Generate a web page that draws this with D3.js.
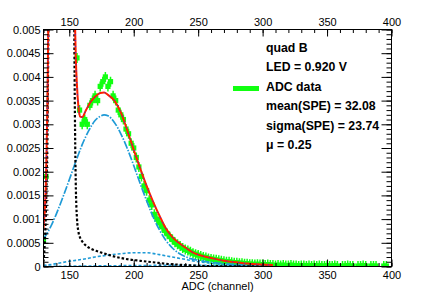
<!DOCTYPE html>
<html>
<head>
<meta charset="utf-8">
<style>
  body { margin: 0; background: #fff; }
  svg { display: block; font-family: "Liberation Sans", Arial, sans-serif; }
  .axis text { font-size: 11px; fill: #000; }
  .axis line, .axis path { stroke: #000; }
  .legend text { font-size: 12.3px; font-weight: bold; }
</style>
</head>
<body>
<svg width="436" height="297"></svg>
<script src="https://d3js.org/d3.v7.min.js"></script>
<script>

// ---- data ----
var xTicks = [150, 200, 250, 300, 350, 400];
var yTicks = [0, 0.0005, 0.001, 0.0015, 0.002, 0.0025, 0.003, 0.0035, 0.004, 0.0045, 0.005];

// ADC histogram, 2-channel bins starting at 130 (null = empty bin)
var binStart = 130, binWidth = 2;
var adcCounts = [
  0.00056, 0.0019, 0.0065, 0.02, 0.04, 0.055, 0.06, 0.06, 0.055, 0.045,          // 130-148
  0.03, 0.016, 0.0068, 0.0044, 0.0033, 0.0030, 0.0031, 0.0030, 0.0034, 0.0035,     // 150-168
  0.0036, 0.0035, 0.0038, 0.0039, 0.0040, 0.0038, 0.0039, 0.0036, 0.0035, 0.0033,  // 170-188
  0.0032, 0.0031, 0.0029, 0.0028, 0.0026, 0.0025, 0.0023, 0.0021, 0.0019, 0.0017,  // 190-208
  0.0016, 0.0014, 0.0013, 0.0011, 0.0010, 0.00092, 0.00084, 0.00076, 0.00069, 0.00063, // 210-228
  0.00057, 0.00051, 0.00047, 0.00043, 0.00039, 0.00036, 0.00034, 0.00031, 0.00028, 0.00026, // 230-248
  0.00024, 0.00022, 0.0002, 0.00019, 0.00017, 0.00016, 0.00015, 0.00014, 0.00013, 0.00012, // 250-268
  0.00011, 0.0001, 0.0001, 0.00009, 0.00008, 0.00008, 0.00007, 0.00007, 0.00006, 0.00006,  // 270-288
  0.00005, 0.00005, 0.00004, 0.00005, 0.00004, 0.00004, 0.00003, 0.00004, 0.00003, 0.00003, // 290-308
  0.00002, 0.00003, 0.00002, 0.00003, 0.00002, 0.00002, 0.00003, 0.00002, 0.00002, 0.00001, // 310-328
  0.00002, 0.00002, 0.00001, 0.00002, 0.00001, 0.00002, 0.00001, 0.00002, 0.00001, 0.00001, // 330-348
  0.00002, 0.00001, 0.00001, 0.00002, 0.00001, null, 0.00001, 0.00001, 0.00002, 0.00001,   // 350-368
  0.00001, null, 0.00001, 0.00001, 0.00002, 0.00001, null, 0.00001, 0.00001, 0.00001,      // 370-388
  null, null, 0.00001, 0.00001, null                                                      // 390-398
];

// total fit (red)
var totalFit = [[130,0.0008],[131,0.0012],[132,0.0019],[133,0.0033],[134,0.0058],[135,0.011],
  [138,0.04],[145,0.07],[150,0.05],[152,0.025],[153,0.012],[154,0.0062],[155,0.0045],[156,0.0038],
  [157,0.0034],[158.5,0.00316],[160,0.00315],[163,0.0033],[166,0.00345],[170,0.00358],[174,0.00366],
  [177,0.00367],[180,0.00362],[185,0.0035],[190,0.00325],[195,0.00287],[200,0.00246],[205,0.00207],
  [210,0.0017],[215,0.00137],[220,0.00107],[225,0.0008],[230,0.00062],[235,0.0005],[240,0.0004],
  [245,0.00031],[250,0.00025],[255,0.00021],[260,0.00018],[265,0.00015],[270,0.00012],[275,0.0001],
  [280,0.00009],[285,0.00007],[290,0.00006],[295,0.00005],[300,0.00004],[308,0.00003]];

// pedestal (black dotted)
var pedestal = [[130,0.0001],[131,0.0005],[132,0.0013],[133,0.0028],[134,0.0056],[135,0.01],
  [138,0.04],[145,0.07],[150,0.05],[152,0.022],[153,0.01],[154,0.0045],[155,0.0018],[156,0.001],
  [157,0.00075],[158.5,0.0006],[160,0.00053],[163.5,0.00043],[168,0.00036],[174,0.0003],[180,0.00025],
  [185,0.00021],[190,0.00018],[196,0.00015],[205,0.00012],[215,0.00009],[228,0.00005],[240,0.00003],
  [255,0.00001],[270,0.000005],[308,0]];

// single photoelectron (blue dash-dot)
var spe1 = [[130,0.00058],[135,0.00081],[140,0.00111],[145,0.00146],[150,0.00183],[155,0.00221],
  [160,0.00257],[165,0.00286],[170,0.00308],[174,0.00317],[177,0.0032],[180,0.00318],[185,0.00304],
  [190,0.0028],[195,0.00249],[200,0.00213],[205,0.00175],[210,0.00139],[215,0.00105],[220,0.00077],
  [225,0.00055],[230,0.00039],[235,0.00028],[240,0.00021],[245,0.00016],[250,0.00013],[260,0.00009],
  [270,0.00006],[280,0.00004],[290,0.00002],[300,0.00001],[308,0.000005]];

// two photoelectrons (blue dotted)
var spe2 = [[130,0.00002],[140,0.00006],[150,0.00011],[160,0.00015],[170,0.0002],[180,0.00024],
  [190,0.00027],[200,0.00029],[210,0.00029],[220,0.00025],[230,0.0002],[240,0.00015],[250,0.0001],
  [260,0.00007],[270,0.00004],[285,0.00002],[300,0.00001],[308,0.000005]];

// three photoelectrons (blue dotted)
var spe3 = [[130,0.000003],[160,0.00001],[200,0.00002],[240,0.000025],[270,0.00002],[308,0.00001]];

var legendLines = ["quad B", "LED = 0.920 V", "ADC data", "mean(SPE) = 32.08", "sigma(SPE) = 23.74", "\u03bc = 0.25"];

// ---- chart ----
var svg = d3.select("svg");
var plotL = 43.5, plotR = 391.5, plotT = 29.5, plotB = 266.5;

var x = d3.scaleLinear().domain([130, 400]).range([plotL, plotR]);
var y = d3.scaleLinear().domain([0, 0.005]).range([plotB, plotT]);

var lightBlue = "#1e9ad6";
var green = "#11ff11";

svg.append("clipPath").attr("id", "clip")
  .append("rect")
    .attr("x", plotL).attr("y", plotT)
    .attr("width", plotR - plotL).attr("height", plotB - plotT);

var plot = svg.append("g").attr("clip-path", "url(#clip)");

// data markers with error bars
var bins = adcCounts.map(function(v, i) { return {ch: binStart + i * binWidth, v: v}; })
  .filter(function(d) { return d.v !== null; });

plot.append("g")
  .selectAll("line")
  .data(bins)
  .enter().append("line")
    .attr("x1", function(d) { return x(d.ch); })
    .attr("x2", function(d) { return x(d.ch); })
    .attr("y1", function(d) { return y(d.v) - 5; })
    .attr("y2", function(d) { return y(d.v) + 5; })
    .attr("stroke", green)
    .attr("stroke-width", 1.5);

plot.append("g")
  .selectAll("rect")
  .data(bins)
  .enter().append("rect")
    .attr("x", function(d) { return x(d.ch) - 2.6; })
    .attr("y", function(d) { return y(d.v) - 2.6; })
    .attr("width", 5.2)
    .attr("height", 5.2)
    .attr("fill", green);

var line = d3.line()
  .x(function(d) { return x(d[0]); })
  .y(function(d) { return y(d[1]); })
  .curve(d3.curveMonotoneX);

function curve(data, color, width, dash) {
  plot.append("path")
    .datum(data)
    .attr("fill", "none")
    .attr("stroke", color)
    .attr("stroke-width", width)
    .attr("stroke-dasharray", dash)
    .attr("d", line);
}

curve(spe3, lightBlue, 1.6, "3,2");
curve(spe2, lightBlue, 1.6, "3,2");
curve(spe1, lightBlue, 1.7, "8,1.5,1.5,1.5");
curve(pedestal, "#000", 2.2, "2.5,2");
curve(totalFit, "#ff2000", 2, null);
curve(totalFit, "#2030ff", 1, "1,5");

// axes
var fmt = d3.format(".4~f");
var xMinor = d3.range(130, 401, 10);
var yMinor = d3.range(0, 0.00501, 0.0001);

function noDomain(g) { g.select(".domain").remove(); }

svg.append("g").attr("class", "axis").attr("transform", "translate(0," + plotB + ")")
  .call(d3.axisBottom(x).tickValues(xMinor).tickSize(-3.5).tickFormat(""))
  .call(noDomain);
svg.append("g").attr("class", "axis").attr("transform", "translate(0," + plotB + ")")
  .call(d3.axisBottom(x).tickValues(xTicks).tickSize(-7).tickPadding(5).tickFormat(d3.format("d")))
  .call(noDomain);

svg.append("g").attr("class", "axis").attr("transform", "translate(0," + plotT + ")")
  .call(d3.axisTop(x).tickValues(xMinor).tickSize(-3.5).tickFormat(""))
  .call(noDomain);
svg.append("g").attr("class", "axis").attr("transform", "translate(0," + plotT + ")")
  .call(d3.axisTop(x).tickValues(xTicks).tickSize(-7).tickPadding(4).tickFormat(d3.format("d")))
  .call(noDomain);

svg.append("g").attr("class", "axis").attr("transform", "translate(" + plotL + ",0)")
  .call(d3.axisLeft(y).tickValues(yMinor).tickSize(-5).tickFormat(""))
  .call(noDomain);
svg.append("g").attr("class", "axis").attr("transform", "translate(" + plotL + ",0)")
  .call(d3.axisLeft(y).tickValues(yTicks).tickSize(-10).tickPadding(3).tickFormat(fmt))
  .call(noDomain);

svg.append("g").attr("class", "axis").attr("transform", "translate(" + plotR + ",0)")
  .call(d3.axisRight(y).tickValues(yMinor).tickSize(-5).tickFormat(""))
  .call(noDomain);
svg.append("g").attr("class", "axis").attr("transform", "translate(" + plotR + ",0)")
  .call(d3.axisRight(y).tickValues(yTicks).tickSize(-10).tickFormat(""))
  .call(noDomain);

// frame
svg.append("rect")
  .attr("x", plotL).attr("y", plotT)
  .attr("width", plotR - plotL).attr("height", plotB - plotT)
  .attr("fill", "none").attr("stroke", "#000");

svg.append("text")
  .attr("x", (plotL + plotR) / 2)
  .attr("y", 290)
  .attr("text-anchor", "middle")
  .attr("font-size", 11)
  .text("ADC (channel)");

// legend
var leg = svg.append("g").attr("class", "legend");
leg.selectAll("text")
  .data(legendLines)
  .enter().append("text")
    .attr("x", 266)
    .attr("y", function(d, i) { return 52 + i * 19.4; })
    .text(function(d) { return d; });

leg.append("line")
  .attr("x1", 233).attr("x2", 259)
  .attr("y1", 88.5).attr("y2", 88.5)
  .attr("stroke", green)
  .attr("stroke-width", 5);

</script>
</body>
</html>
